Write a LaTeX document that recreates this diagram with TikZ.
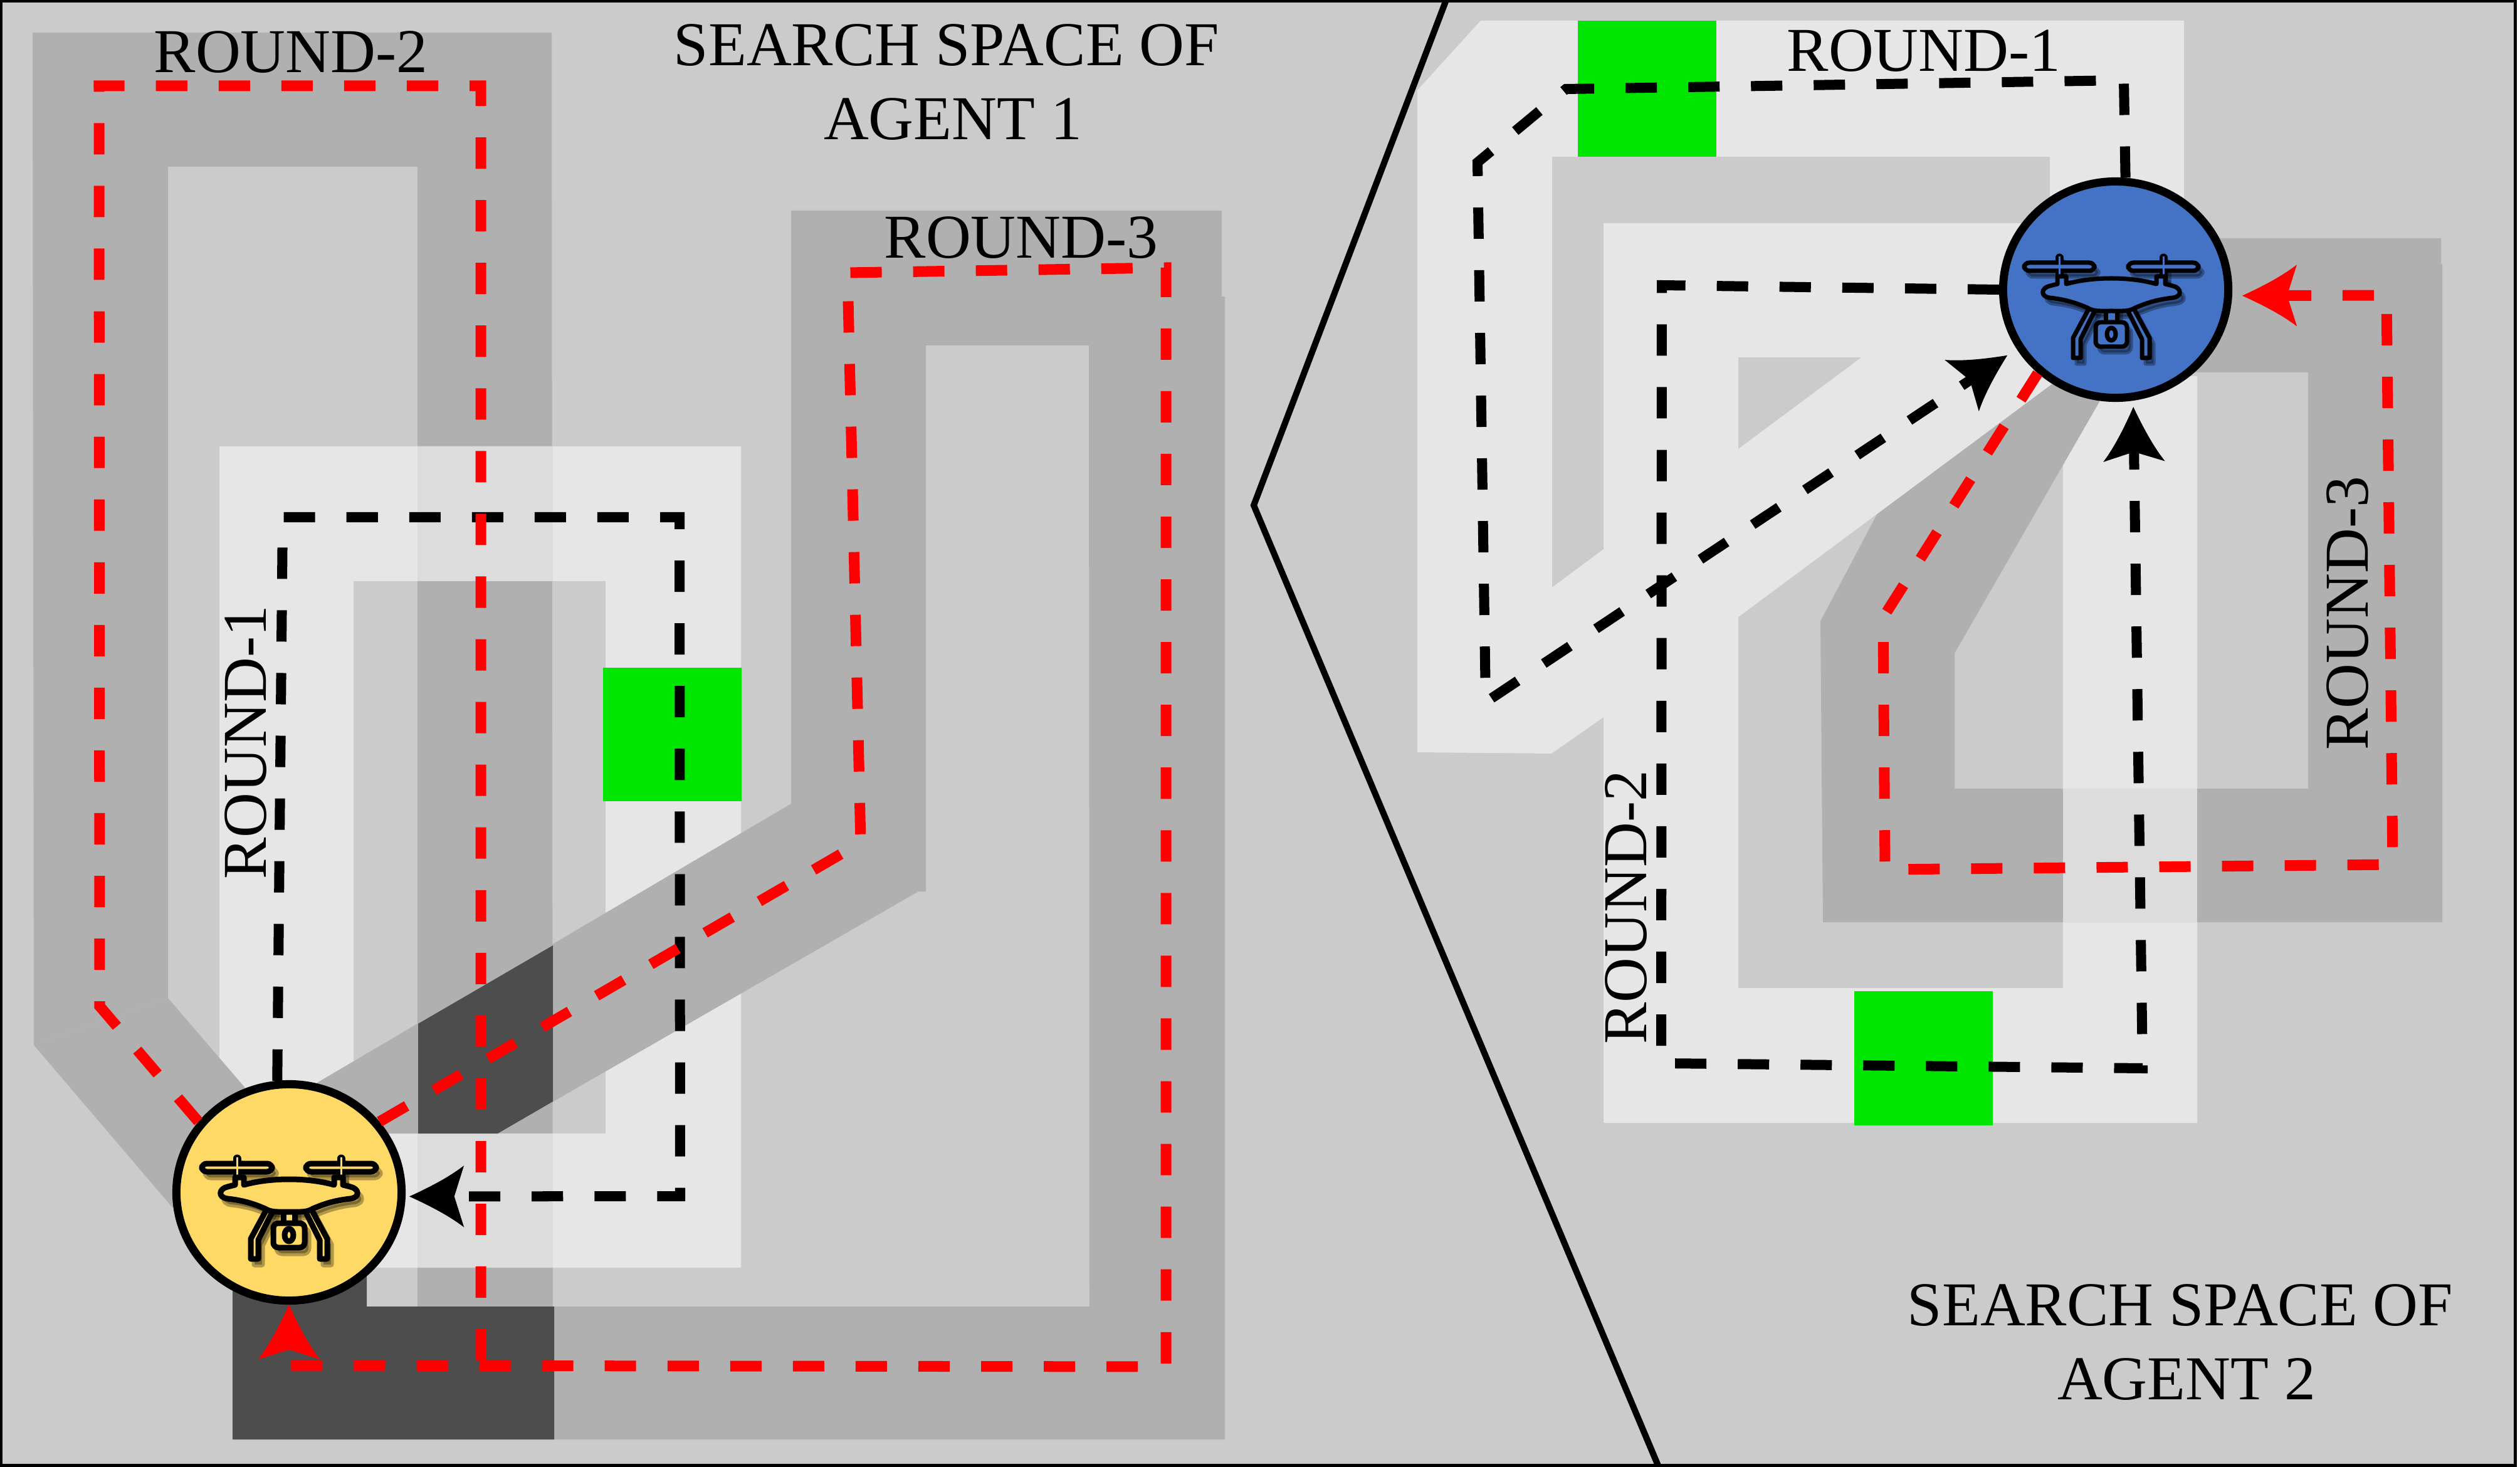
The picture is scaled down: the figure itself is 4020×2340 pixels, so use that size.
\documentclass[tikz,border=0pt]{standalone}
\usepackage{fontspec}
\setmainfont{Liberation Serif}
\usetikzlibrary{arrows.meta,shapes.geometric}

\definecolor{spacegray}{HTML}{CBCBCB}
\definecolor{bandgray}{HTML}{B0B0B0}
\definecolor{bandwhite}{HTML}{E6E6E6}
\definecolor{bandmix}{HTML}{DCDCDC}
\definecolor{banddark}{HTML}{4D4D4D}
\definecolor{goalgreen}{HTML}{00E600}
\definecolor{droneyellow}{HTML}{FFD966}
\definecolor{droneblue}{HTML}{4472C4}

% Arrow tip with hollow sides
\pgfdeclarearrow{
    name=Dart,
    setup code={
        \pgfarrowssettipend{0pt}
        \pgfarrowssetlineend{-19pt}
        \pgfarrowssetvisualbackend{-20pt}
        \pgfarrowssetbackend{-24.8pt}
        \pgfarrowshullpoint{0pt}{0pt}
        \pgfarrowshullpoint{-24.8pt}{14pt}
        \pgfarrowshullpoint{-24.8pt}{-14pt}
    },
    drawing code={
        \pgfpathmoveto{\pgfqpoint{0pt}{0pt}}
        \pgfpathcurveto{\pgfqpoint{-11pt}{5pt}}{\pgfqpoint{-19pt}{9.5pt}}{\pgfqpoint{-24.8pt}{14pt}}
        \pgfpathlineto{\pgfqpoint{-20.4pt}{0pt}}
        \pgfpathlineto{\pgfqpoint{-24.8pt}{-14pt}}
        \pgfpathcurveto{\pgfqpoint{-19pt}{-9.5pt}}{\pgfqpoint{-11pt}{-5pt}}{\pgfqpoint{0pt}{0pt}}
        \pgfusepathqfill
    }
}

\tikzset{
    dronenode/.style={ellipse,draw=black,line width=0.13cm,inner sep=0pt,minimum width=3.59cm,minimum height=3.45cm},
    iconline/.style={draw=black,line join=round},
    roundtext/.style={inner sep=0pt,font=\fontsize{28.3}{33.5}\selectfont},
    blackpath/.style={draw=black,line width=0.16cm,dash pattern=on 0.5cm off 0.5cm},
    redpath/.style={draw=red,line width=0.17cm,dash pattern=on 0.5cm off 0.5cm},
    bigtip/.style={-{Dart}}
}

% Drone icon: fill colour and line width as arguments
\newcommand{\dronesign}[2]{
    \tikzset{iconline/.append style={line width=#2}}
    \foreach \s in {-1,1} {
        \draw[black,line width=0.13cm,line cap=round] ({\s*83},-54) -- ({\s*83},-22);
        \draw[iconline,fill=#1,rounded corners=0.08cm] ({\s*83-56},-46) rectangle ({\s*83+56},-33);
        \draw[#1,line width=0.03cm] ({\s*83},-56) -- ({\s*83},-10);
    }
    % Legs
    \draw[iconline,fill=#1] (-34,24) -- (-61,74) -- (-61,106) -- (-49,106) -- (-49,76) -- (-25,28) -- cycle;
    \draw[iconline,fill=#1] (34,24) -- (61,74) -- (61,106) -- (49,106) -- (49,76) -- (25,28) -- cycle;
    % Camera
    \draw[iconline,fill=#1] (-9,26) rectangle (9,52);
    \draw[iconline,fill=#1,rounded corners=0.08cm] (-25,49) rectangle (25,88);
    \draw[iconline,fill=#1] (0,68) ellipse (7 and 10);
    % Body
    \draw[iconline,fill=#1] (-72,-12) .. controls (-30,-24) and (30,-24) .. (72,-12) -- (72,-24) -- (86,-24) -- (86,-12) -- (98,-9)
        .. controls (112,-6) and (114,8) .. (98,10) .. controls (70,13) and (52,20) .. (38,26) .. controls (28,32) and (20,31) .. (0,31)
        .. controls (-20,31) and (-28,32) .. (-38,26) .. controls (-52,20) and (-70,13) .. (-98,10) .. controls (-114,8) and (-112,-6) .. (-98,-9)
        -- (-86,-12) -- (-86,-24) -- (-72,-24) -- cycle;
}

\begin{document}
\begin{tikzpicture}[x=0.01cm,y=-0.01cm]
    \useasboundingbox (0,0) rectangle (4020,2340);

    % Search space
    \fill[white] (0,0) rectangle (4020,2340);
    \draw[fill=spacegray,line width=0.05cm] (1,2) rectangle (4012,2337);

    % Agent 1, round 2
    \fill[bandgray] (52,52) -- (880,52) -- (882,2296) -- (371,2296) -- (371,2084) -- (666,2084) -- (666,266) -- (268,266) -- (268,1592) -- (54,1667) -- cycle;

    % Agent 1, round 1
    \fill[bandwhite] (350,712) -- (1182,712) -- (1182,2022) -- (585,2022) -- (585,1808) -- (966,1808) -- (966,927) -- (564,927) -- (564,1900) -- (350,1900) -- cycle;
    \fill[bandmix] (666,712) rectangle (882,927);
    \fill[bandmix] (666,1808) rectangle (882,2022);
    \fill[bandgray] (54,1667) -- (268,1592) -- (390,1734) -- (461,1902) -- (275,1926) -- cycle;

    % Agent 1, round 3
    \fill[bandgray] (1262,336) -- (1949,336) -- (1949,473) -- (1954,473) -- (1954,2296) -- (371,2296) -- (371,2084) -- (1738,2084) -- (1737,551) -- (1477,551) -- (1477,1422) -- (1465,1422) -- (794,1808) -- (500,1808) -- (506,1727) -- (1262,1282) -- cycle;
    \fill[banddark] (667,1633) -- (882,1508) -- (882,1757) -- (794,1808) -- (667,1808) -- cycle;
    \fill[banddark] (371,2040) -- (371,2296) -- (884,2296) -- (884,2084) -- (585,2084) -- (585,1990) -- cycle;
    \fill[goalgreen] (962,1065) rectangle (1183,1278);

    % Agent 2, round 2
    \fill[bandwhite,even odd rule] (2558,356) -- (3300,356) -- (3300,600) -- (3505,600) -- (3505,1791) -- (2558,1791) -- cycle (2773,570) rectangle (3291,1576);

    % Agent 2, round 3
    \fill[bandgray] (3400,380) -- (3894,380) -- (3894,421) -- (3896,421) -- (3896,1471) -- (2908,1471) -- (2904,991) -- (3100,620) -- (3375,462) -- (3349,641) -- (3118,1042) -- (3118,1258) -- (3682,1258) -- (3682,594) -- (3400,594) -- cycle;
    \fill[bandmix] (3291,1258) rectangle (3505,1471);

    % Agent 2, round 1
    \fill[bandwhite] (2261,144) -- (2362,33) -- (3484,33) -- (3484,470) -- (3270,470) -- (3270,250) -- (2476,250) -- (2476,937) -- (3260,354) -- (3375,537) -- (2558,1144) -- (2475,1202) -- (2261,1200) -- cycle;
    \fill[goalgreen] (2517,33) rectangle (2738,250);
    \fill[goalgreen] (2958,1581) rectangle (3179,1795);

    % Border between the two spaces
    \draw[line width=0.1cm] (2307,0) -- (2000,806) -- (2646,2340);

    % Drones
    \node[dronenode,fill=droneyellow] (droneA) at (461,1902) {};
    \node[dronenode,fill=droneblue] (droneB) at (3375,462) {};
    \begin{scope}[shift={(droneA)}]
        \begin{scope}[shift={(6,9)},opacity=0.3]
            \dronesign{black}{0.09cm}
        \end{scope}
        \dronesign{droneyellow}{0.09cm}
    \end{scope}
    \begin{scope}[shift={(3368,465)}]
        \begin{scope}[shift={(6,9)},opacity=0.3]
            \dronesign{black}{0.07cm}
        \end{scope}
        \dronesign{droneblue}{0.07cm}
    \end{scope}

    % Labels
    \node[roundtext] (roundAtwo) at (464,83) {ROUND-2};
    \node[roundtext] (roundAthree) at (1629,379) {ROUND-3};
    \node[roundtext,rotate=90] (roundAone) at (392,1184) {ROUND-1};
    \node[roundtext] (roundBone) at (3069,81) {ROUND-1};
    \node[roundtext,rotate=90] (roundBtwo) at (2594,1447) {ROUND-2};
    \node[roundtext,rotate=90] (roundBthree) at (3745,978) {ROUND-3};
    \node[roundtext,align=center] (spaceA) at (1510,131) {SEARCH SPACE OF\\\hspace*{0.2cm}AGENT 1};
    \node[roundtext,align=center] (spaceB) at (3478,2141) {SEARCH SPACE OF\\\hspace*{0.2cm}AGENT 2};

    % Paths of agent 1
    \draw[blackpath,bigtip,shorten >=0.06cm] (droneA.96) -- (451,825) -- (1084,825) -- (1085,1908) -- (droneA.-2);
    \coordinate (redjoin) at (767,2178);
    \draw[redpath] (droneA.142) -- (159,1605) -- (158,137) -- (767,137) -- (redjoin);
    \draw[redpath,bigtip] (droneA.38) -- (1373,1344) -- (1352,435) -- (1860,427) -- (1860,2180) -- (461,2178) -- (droneA.south);

    % Paths of agent 2
    \draw[blackpath,bigtip,shorten >=0.18cm] (droneB.85) -- (3388,128) -- (2498,142) -- (2357,259) -- (2370,1120) -- (droneB.211);
    \draw[blackpath,bigtip,shorten >=0.1cm] (droneB.west) -- (2651,455) -- (2650,1696) -- (3418,1704) -- (droneB.279);
    \draw[redpath,bigtip,shorten >=0.16cm] (droneB.227) -- (3004,985) -- (3007,1387) -- (3817,1379) -- (3807,471) -- (droneB.-3);
\end{tikzpicture}
\end{document}
